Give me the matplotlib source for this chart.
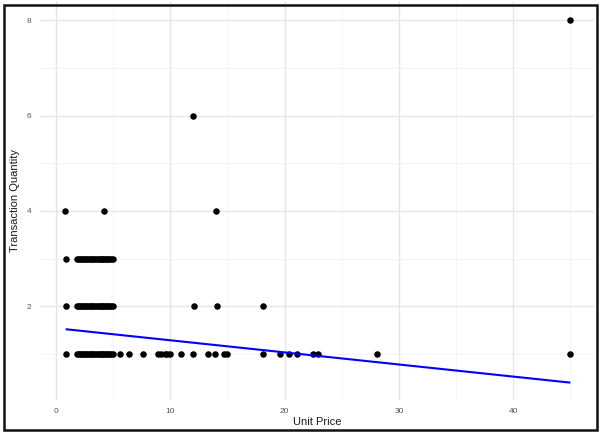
import matplotlib
matplotlib.use("Agg")
import matplotlib.pyplot as plt
from matplotlib.patches import Rectangle

plt.rcParams['font.family'] = ['Liberation Sans', 'DejaVu Sans']

# Transactions: unit price vs. quantity bought
cluster = [1.85, 2.0, 2.1, 2.25, 2.4, 2.5, 2.65, 2.8, 2.95, 3.1, 3.25, 3.35, 3.5,
           3.65, 3.75, 3.9, 4.05, 4.15, 4.25, 4.4, 4.55, 4.65, 4.8, 4.95]

price_q1 = [0.85] + cluster + [5.6, 6.4, 7.6, 8.9, 9.2, 9.5, 9.75, 10.0, 10.95, 12.0,
                               13.3, 13.95, 14.7, 15.0, 18.1, 19.6, 20.4, 21.1,
                               22.5, 22.95, 28.1, 45.0]
price_q2 = [0.85] + cluster + [12.1, 14.1, 18.1]
price_q3 = [0.85] + cluster
price_q4 = [0.8, 4.2, 14.0]
price_q6 = [12.0]
price_q8 = [45.0]

# Least-squares trend line (endpoints over the price range)
trend_x = [0.85, 45.0]
trend_y = [1.52, 0.40]

x_major = [0, 10, 20, 30, 40]
x_minor = [5, 15, 25, 35, 45]
y_major = [2, 4, 6, 8]
y_minor = [1, 3, 5, 7]

W, H = 600, 432
fig = plt.figure(figsize=(W / 100, H / 100), dpi=100)
left, right, top, bottom = 40, 594, 2, 400
ax = fig.add_axes([left / W, 1 - bottom / H, (right - left) / W, (bottom - top) / H])

ax.set_xlim(-1.40, 47.07)
ax.set_ylim(0.036, 8.38)

for v in x_minor:
    ax.axvline(v, color='#f2f2f2', lw=0.6, zorder=0)
for v in y_minor:
    ax.axhline(v, color='#f2f2f2', lw=0.6, zorder=0)
for v in x_major:
    ax.axvline(v, color='#e6e6e6', lw=1.0, zorder=0)
for v in y_major:
    ax.axhline(v, color='#e6e6e6', lw=1.0, zorder=0)

groups = [(price_q1, 1), (price_q2, 2), (price_q3, 3), (price_q4, 4), (price_q6, 6), (price_q8, 8)]
for xs, q in groups:
    ax.scatter(xs, [q] * len(xs), s=22, color='black', linewidths=0, zorder=3)

ax.plot(trend_x, trend_y, color='#0000ff', lw=1.5, zorder=4, solid_capstyle='butt')

for s in ax.spines.values():
    s.set_visible(False)
ax.set_xticks(x_major)
ax.set_yticks(y_major)
ax.set_xticklabels([str(v) for v in x_major])
ax.set_yticklabels([str(v) for v in y_major])
ax.tick_params(axis='both', length=0, labelsize=6, labelcolor='#555555')
ax.tick_params(axis='x', pad=6)
ax.tick_params(axis='y', pad=6)

ax.set_xlabel('Unit Price', fontsize=8, color='#1a1a1a', labelpad=1)
ax.set_ylabel('Transaction Quantity', fontsize=8, color='#1a1a1a', labelpad=5)

# outer frame
fig.patches.append(Rectangle((4 / W, 2 / H), 593 / W, 425 / H, transform=fig.transFigure,
                             fill=False, edgecolor='#111111', lw=1.8, zorder=10))

fig.savefig('out.png', dpi=100)
